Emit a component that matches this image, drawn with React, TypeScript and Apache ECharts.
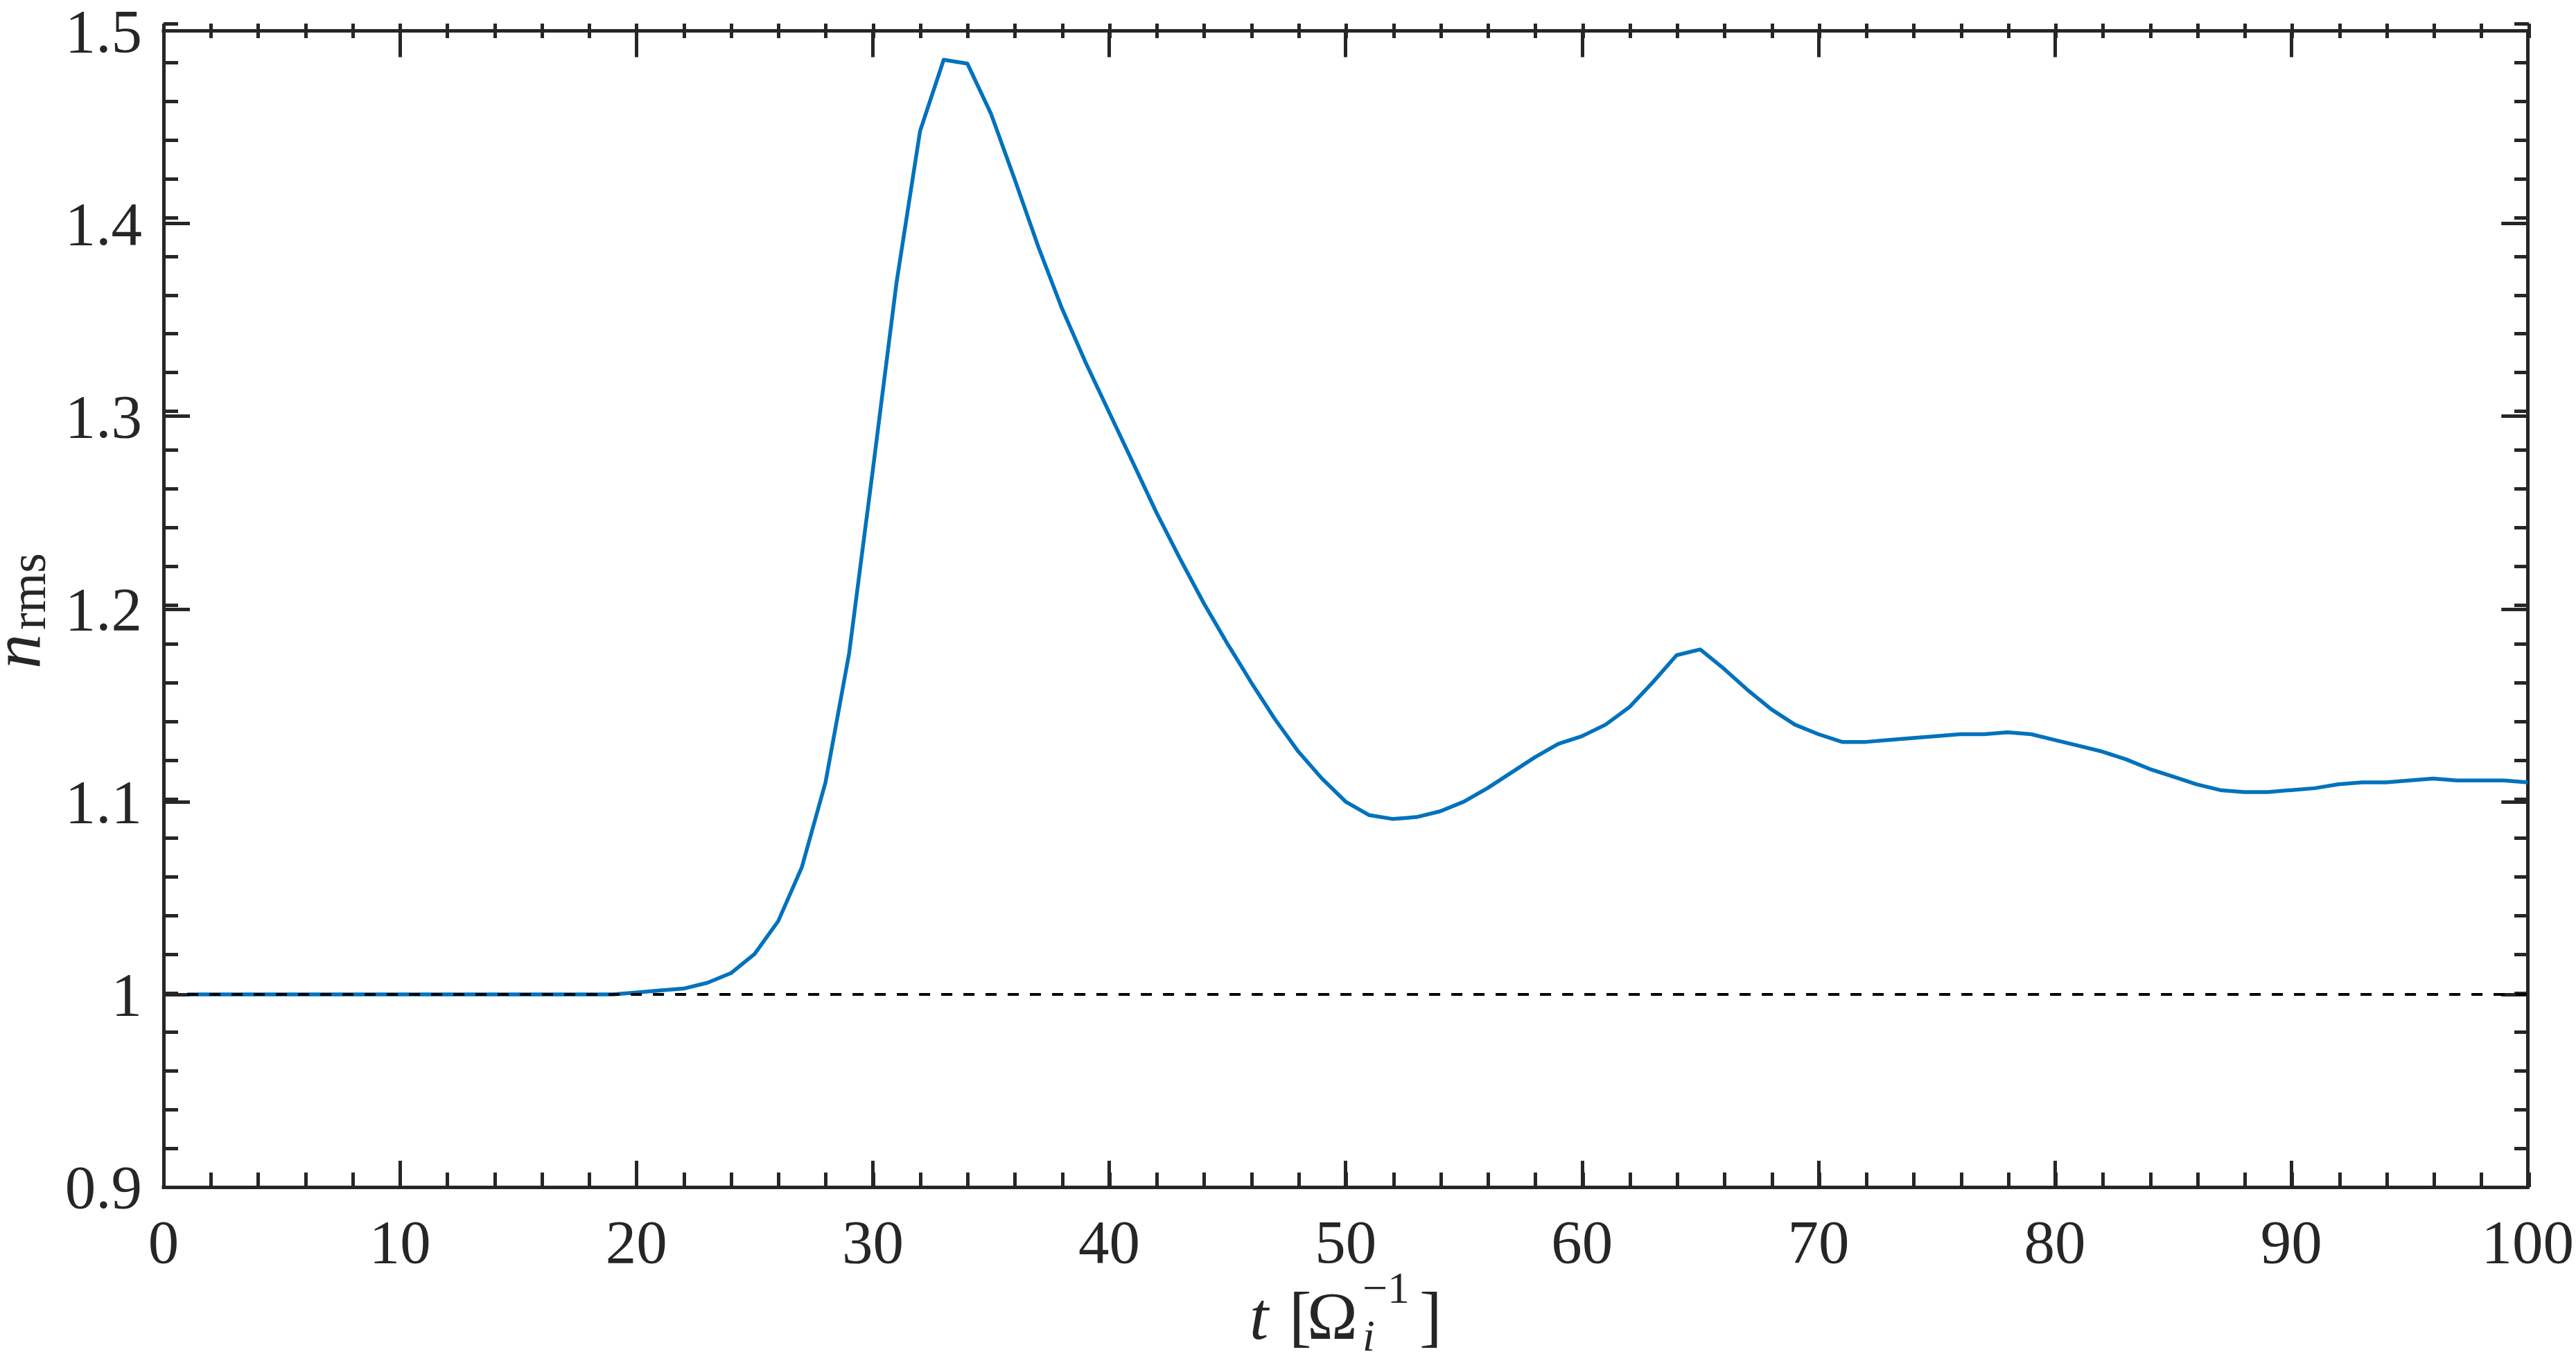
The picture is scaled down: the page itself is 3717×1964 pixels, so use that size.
import React, { useEffect, useRef } from "react";
import * as echarts from "echarts";

// t in units of 1/Omega_i
const times = [
  1, 2, 3, 4, 5, 6, 7, 8, 9, 10, 11, 12, 13, 14, 15, 16, 17, 18, 19, 20,
  21, 22, 23, 24, 25, 26, 27, 28, 29, 30, 31, 32, 33, 34, 35, 36, 37, 38, 39, 40,
  41, 42, 43, 44, 45, 46, 47, 48, 49, 50, 51, 52, 53, 54, 55, 56, 57, 58, 59, 60,
  61, 62, 63, 64, 65, 66, 67, 68, 69, 70, 71, 72, 73, 74, 75, 76, 77, 78, 79, 80,
  81, 82, 83, 84, 85, 86, 87, 88, 89, 90, 91, 92, 93, 94, 95, 96, 97, 98, 99, 100,
];

// n_rms values
const nRms = [
  1.0, 1.0, 1.0, 1.0, 1.0, 1.0, 1.0, 1.0, 1.0, 1.0,
  1.0, 1.0, 1.0, 1.0, 1.0, 1.0, 1.0, 1.0, 1.0, 1.001,
  1.002, 1.003, 1.006, 1.011, 1.021, 1.038, 1.066, 1.11, 1.177, 1.272,
  1.369, 1.448, 1.485, 1.483, 1.457, 1.423, 1.388, 1.356, 1.328, 1.302,
  1.276, 1.25, 1.226, 1.203, 1.182, 1.162, 1.143, 1.126, 1.112, 1.1,
  1.093, 1.091, 1.092, 1.095, 1.1, 1.107, 1.115, 1.123, 1.13, 1.134,
  1.14, 1.149, 1.162, 1.176, 1.179, 1.169, 1.158, 1.148, 1.14, 1.135,
  1.131, 1.131, 1.132, 1.133, 1.134, 1.135, 1.135, 1.136, 1.135, 1.132,
  1.129, 1.126, 1.122, 1.117, 1.113, 1.109, 1.106, 1.105, 1.105, 1.106,
  1.107, 1.109, 1.11, 1.11, 1.111, 1.112, 1.111, 1.111, 1.111, 1.11,
];

// reference level (dashed)
const refTimes = [1, 100];
const refValues = [1, 1];

const xTicks = [0, 10, 20, 30, 40, 50, 60, 70, 80, 90, 100];
const yTicks = [0.9, 1.0, 1.1, 1.2, 1.3, 1.4, 1.5];
const xMinorStep = 2;
const yMinorStep = 0.02;

const AX = "#262626";
const SERIF = "'Liberation Serif', 'Times New Roman', serif";

export default function App() {
  const ref = useRef<HTMLDivElement>(null);

  useEffect(() => {
    document.body.style.margin = "0";
    if (!ref.current) return;
    const chart = echarts.init(ref.current, undefined, { renderer: "svg" });

    const GRID = { left: 236, top: 34, width: 3413, height: 1679, containLabel: false };

    const majorAxis = (showLine: boolean) => ({
      axisLine: { show: showLine, onZero: false, lineStyle: { color: AX, width: 5, cap: "square" } },
      axisTick: { show: true, inside: true, length: 38, lineStyle: { color: AX, width: 5 } },
      minorTick: { show: false },
      splitLine: { show: false },
      minorSplitLine: { show: false },
    });
    const minorAxis = () => ({
      axisLine: { show: false, onZero: false },
      axisTick: { show: true, inside: true, length: 21, lineStyle: { color: AX, width: 5 } },
      minorTick: { show: false },
      splitLine: { show: false },
      axisLabel: { show: false },
    });

    const xMin = xTicks[0];
    const xMax = xTicks[xTicks.length - 1];
    const yMin = yTicks[0];
    const yMax = yTicks[yTicks.length - 1];

    const main = 98;
    const scr = 64;
    const mid = (baseline: number, size: number) => baseline - 0.3375 * size;
    const txt = (text: string, x: number, y: number, size: number, italic = false) => ({
      type: "text",
      x,
      y,
      style: {
        text,
        fontFamily: SERIF,
        fontSize: size,
        lineHeight: Math.round(size * 0.62),
        fontStyle: italic ? "italic" : "normal",
        fill: AX,
        textAlign: "left",
        textVerticalAlign: "middle",
      },
    });

    const xBase = 1932;

    chart.setOption({
      animation: false,
      backgroundColor: "#ffffff",
      grid: [GRID, { ...GRID }],
      xAxis: [
        {
          type: "value",
          gridIndex: 0,
          position: "bottom",
          min: xMin,
          max: xMax,
          interval: 10,
          ...majorAxis(true),
          axisLabel: {
            show: true,
            margin: 34,
            fontFamily: SERIF,
            fontSize: 89,
            color: AX,
            formatter: (v: number) => String(v),
          },
        },
        {
          type: "value",
          gridIndex: 0,
          position: "top",
          min: xMin,
          max: xMax,
          interval: 10,
          ...majorAxis(true),
          axisLabel: { show: false },
        },
        {
          type: "value",
          gridIndex: 1,
          position: "bottom",
          min: xMin,
          max: xMax,
          interval: xMinorStep,
          ...minorAxis(),
        },
        {
          type: "value",
          gridIndex: 1,
          position: "top",
          min: xMin,
          max: xMax,
          interval: xMinorStep,
          ...minorAxis(),
        },
      ],
      yAxis: [
        {
          type: "value",
          gridIndex: 0,
          position: "left",
          min: yMin,
          max: yMax,
          interval: 0.1,
          ...majorAxis(true),
          axisLabel: {
            show: true,
            margin: 31,
            fontFamily: SERIF,
            fontSize: 89,
            lineHeight: 62,
            color: AX,
            formatter: (v: number) => String(parseFloat(v.toFixed(1))),
          },
        },
        {
          type: "value",
          gridIndex: 0,
          position: "right",
          min: yMin,
          max: yMax,
          interval: 0.1,
          ...majorAxis(true),
          axisLabel: { show: false },
        },
        {
          type: "value",
          gridIndex: 1,
          position: "left",
          min: yMin,
          max: yMax,
          interval: yMinorStep,
          ...minorAxis(),
        },
        {
          type: "value",
          gridIndex: 1,
          position: "right",
          min: yMin,
          max: yMax,
          interval: yMinorStep,
          ...minorAxis(),
        },
      ],
      series: [
        {
          type: "line",
          xAxisIndex: 0,
          yAxisIndex: 0,
          data: times.map((t, i) => [t, nRms[i]]),
          showSymbol: false,
          symbol: "none",
          lineStyle: { color: "#0072BD", width: 5.5, join: "round" },
          z: 2,
        },
        {
          type: "line",
          xAxisIndex: 0,
          yAxisIndex: 0,
          data: refTimes.map((t, i) => [t, refValues[i]]),
          showSymbol: false,
          symbol: "none",
          lineStyle: { color: "#000000", width: 4, type: [16, 16] },
          z: 3,
        },
      ],
      graphic: [
        // x-axis title: t [Omega_i^{-1}]
        txt("t", 1803, mid(xBase, main), main, true),
        txt("[", 1860, mid(xBase, main), main),
        txt("Ω", 1886, mid(xBase, main), main),
        txt("−1", 1966, mid(1880, scr), scr),
        txt("i", 1966, mid(1949, scr), scr, true),
        txt("]", 2048, mid(xBase, main), main),
        // y-axis title: n_rms (rotated)
        {
          type: "group",
          x: 57,
          y: 965,
          rotation: Math.PI / 2,
          children: [
            txt("n", 0, mid(0, 100), 100, true),
            txt("rms", 56, mid(8, 74), 74),
          ],
        },
      ],
    });

    return () => chart.dispose();
  }, []);

  return <div ref={ref} style={{ width: 3717, height: 1964 }} />;
}
